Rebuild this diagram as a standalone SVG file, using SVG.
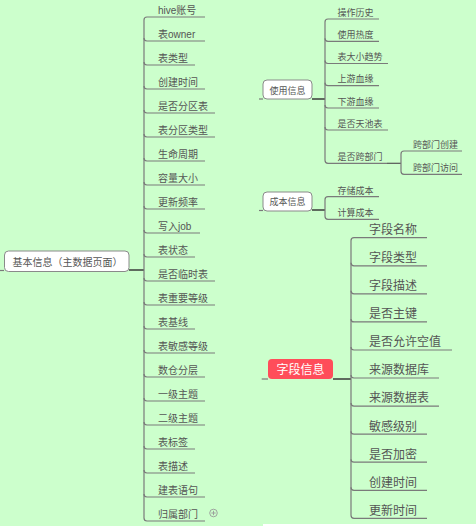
<svg xmlns="http://www.w3.org/2000/svg" width="476" height="526" viewBox="0 0 476 526">
<style>
.t{font-family:"Liberation Sans","Noto Sans CJK SC",sans-serif;fill:#555}
.s10{font-size:10px}
.s9{font-size:9px}
.s12{font-size:12px}
.ln{fill:none;stroke:#7a7a7a;stroke-width:1.2}
.dk{fill:none;stroke:#3a3a3a;stroke-width:1.5}
.box{fill:#fff;stroke:#8a8a8a;stroke-width:1}
</style>
<rect width="476" height="526" fill="#CCFFCC"/>
<rect x="263" y="524" width="213" height="2" fill="#fff"/>
<g id="connectors">
<!-- root -->
<path class="ln" d="M0,270.5H4"/>
<path class="dk" d="M129,270H144"/>
<path class="ln" d="M147,17Q144,17 144,20V518Q144,521 147,521H205"/>
<path class="ln" d="M147,17H205"/>
<path class="ln" d="M144,38Q144,41 147,41H205"/>
<path class="ln" d="M144,62Q144,65 147,65H195"/>
<path class="ln" d="M144,86Q144,89 147,89H205"/>
<path class="ln" d="M144,110Q144,113 147,113H215"/>
<path class="ln" d="M144,134Q144,137 147,137H215"/>
<path class="ln" d="M144,158Q144,161 147,161H205"/>
<path class="ln" d="M144,182Q144,185 147,185H205"/>
<path class="ln" d="M144,206Q144,209 147,209H205"/>
<path class="ln" d="M144,230Q144,233 147,233H200"/>
<path class="ln" d="M144,254Q144,257 147,257H195"/>
<path class="ln" d="M144,278Q144,281 147,281H215"/>
<path class="ln" d="M144,302Q144,305 147,305H215"/>
<path class="ln" d="M144,326Q144,329 147,329H195"/>
<path class="ln" d="M144,350Q144,353 147,353H215"/>
<path class="ln" d="M144,374Q144,377 147,377H205"/>
<path class="ln" d="M144,398Q144,401 147,401H205"/>
<path class="ln" d="M144,422Q144,425 147,425H205"/>
<path class="ln" d="M144,446Q144,449 147,449H195"/>
<path class="ln" d="M144,470Q144,473 147,473H195"/>
<path class="ln" d="M144,494Q144,497 147,497H205"/>
<!-- usage -->
<path class="ln" d="M259,99H263"/>
<path class="dk" d="M312,99H325"/>
<path class="ln" d="M328,19Q325,19 325,22V160.3Q325,163.3 328,163.3H387"/>
<path class="ln" d="M328,19H379"/>
<path class="ln" d="M325,38.3Q325,41.3 328,41.3H379"/>
<path class="ln" d="M325,60.5Q325,63.5 328,63.5H388"/>
<path class="ln" d="M325,82.7Q325,85.7 328,85.7H379"/>
<path class="ln" d="M325,105Q325,108 328,108H379"/>
<path class="ln" d="M325,127Q325,130 328,130H388"/>
<path class="dk" d="M387,163.3H401" style="stroke-width:1.2;stroke:#555"/>
<path class="ln" d="M404,151Q401,151 401,154V171.3Q401,174.3 404,174.3H462"/>
<path class="ln" d="M404,151H462"/>
<!-- cost -->
<path class="ln" d="M259,210.5H263"/>
<path class="dk" d="M312,210H325"/>
<path class="ln" d="M328,196.7Q325,196.7 325,199.7V216.3Q325,219.3 328,219.3H379"/>
<path class="ln" d="M328,196.7H379"/>
<!-- field -->
<path class="ln" d="M261.7,379H268"/>
<path class="dk" d="M333,379H351"/>
<path class="ln" d="M354,237.7Q351,237.7 351,240.7V515.3Q351,518.3 354,518.3H427"/>
<path class="ln" d="M354,237.7H427"/>
<path class="ln" d="M351,262.8Q351,265.8 354,265.8H427"/>
<path class="ln" d="M351,290.8Q351,293.8 354,293.8H427"/>
<path class="ln" d="M351,318.9Q351,321.9 354,321.9H427"/>
<path class="ln" d="M351,347Q351,350 354,350H452"/>
<path class="ln" d="M351,375Q351,378 354,378H439"/>
<path class="ln" d="M351,403.1Q351,406.1 354,406.1H439"/>
<path class="ln" d="M351,431.2Q351,434.2 354,434.2H427"/>
<path class="ln" d="M351,459.2Q351,462.2 354,462.2H427"/>
<path class="ln" d="M351,487.3Q351,490.3 354,490.3H427"/>
</g>
<g id="root">
<rect class="box" x="4.5" y="251" width="124.5" height="20.5" rx="4"/>
<text class="t s10" x="12.5" y="265.5" fill="#444">基本信息（主数据页面）</text>
</g>
<g id="basic-children" class="t s10">
<text x="158" y="13.5">hive账号</text>
<text x="158" y="37.5">表owner</text>
<text x="158" y="61.5">表类型</text>
<text x="158" y="85.5">创建时间</text>
<text x="158" y="109.5">是否分区表</text>
<text x="158" y="133.5">表分区类型</text>
<text x="158" y="157.5">生命周期</text>
<text x="158" y="181.5">容量大小</text>
<text x="158" y="205.5">更新频率</text>
<text x="158" y="229.5">写入job</text>
<text x="158" y="253.5">表状态</text>
<text x="158" y="277.5">是否临时表</text>
<text x="158" y="301.5">表重要等级</text>
<text x="158" y="325.5">表基线</text>
<text x="158" y="349.5">表敏感等级</text>
<text x="158" y="373.5">数仓分层</text>
<text x="158" y="397.5">一级主题</text>
<text x="158" y="421.5">二级主题</text>
<text x="158" y="445.5">表标签</text>
<text x="158" y="469.5">表描述</text>
<text x="158" y="493.5">建表语句</text>
<text x="158" y="517.5">归属部门</text>
</g>
<g id="expand">
<circle cx="213.5" cy="513" r="3.8" fill="none" stroke="#999" stroke-width="0.9"/>
<path d="M211.3,513H215.7M213.5,510.8V515.2" stroke="#999" stroke-width="0.9"/>
</g>
<g id="usage">
<rect class="box" x="263" y="80" width="49" height="19" rx="4"/>
<text class="t s9" x="287.5" y="93.5" text-anchor="middle" fill="#444">使用信息</text>
</g>
<g id="usage-children" class="t s9">
<text x="337.5" y="15.5">操作历史</text>
<text x="337.5" y="37.8">使用热度</text>
<text x="337.5" y="60">表大小趋势</text>
<text x="337.5" y="82.2">上游血缘</text>
<text x="337.5" y="104.5">下游血缘</text>
<text x="337.5" y="126.5">是否天池表</text>
<text x="337.5" y="159.8">是否跨部门</text>
<text x="413" y="147.5">跨部门创建</text>
<text x="413" y="170.8">跨部门访问</text>
</g>
<g id="cost">
<rect class="box" x="263" y="192" width="49" height="19" rx="4"/>
<text class="t s9" x="287.5" y="205.2" text-anchor="middle" fill="#444">成本信息</text>
</g>
<g id="cost-children" class="t s9">
<text x="337.5" y="193.5">存储成本</text>
<text x="337.5" y="216">计算成本</text>
</g>
<g id="field">
<rect x="268" y="359" width="65" height="20" rx="4" fill="#FF4D5A"/>
<text class="s12" x="300.5" y="373.8" text-anchor="middle" fill="#fff" font-family="Liberation Sans,Noto Sans CJK SC,sans-serif">字段信息</text>
</g>
<g id="field-children" class="t s12">
<text x="369" y="234">字段名称</text>
<text x="369" y="262.1">字段类型</text>
<text x="369" y="290.1">字段描述</text>
<text x="369" y="318.2">是否主键</text>
<text x="369" y="346.3">是否允许空值</text>
<text x="369" y="374.3">来源数据库</text>
<text x="369" y="402.4">来源数据表</text>
<text x="369" y="430.5">敏感级别</text>
<text x="369" y="458.5">是否加密</text>
<text x="369" y="486.6">创建时间</text>
<text x="369" y="514.6">更新时间</text>
</g>
</svg>
